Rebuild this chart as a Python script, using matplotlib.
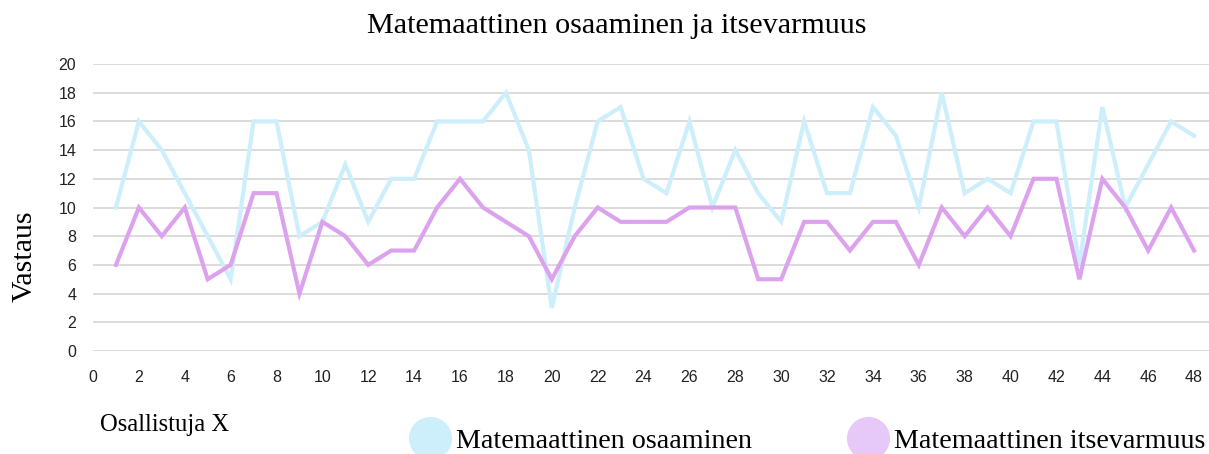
import matplotlib
matplotlib.use("Agg")
import matplotlib.pyplot as plt
from matplotlib.lines import Line2D

# Osallistujat 1..48
osallistuja = list(range(1, 49))
osaaminen = [10, 16, 14, 11, 8, 5, 16, 16, 8, 9, 13, 9, 12, 12, 16, 16,
             16, 18, 14, 3, 10, 16, 17, 12, 11, 16, 10, 14, 11, 9, 16, 11,
             11, 17, 15, 10, 18, 11, 12, 11, 16, 16, 6, 17, 10, 13, 16, 15]
itsevarmuus = [6, 10, 8, 10, 5, 6, 11, 11, 4, 9, 8, 6, 7, 7, 10, 12,
               10, 9, 8, 5, 8, 10, 9, 9, 9, 10, 10, 10, 5, 5, 9, 9,
               7, 9, 9, 6, 10, 8, 10, 8, 12, 12, 5, 12, 10, 7, 10, 7]
sarjat = ["Matemaattinen osaaminen", "Matemaattinen itsevarmuus"]

serif = "Liberation Serif"
sans = "Liberation Sans"
blue = "#cdeefb"
purple = "#dda2ee"

fig = plt.figure(figsize=(12.09, 4.54), dpi=100)
ax = fig.add_axes([93 / 1209, 1 - 351 / 454, 1 - 93 / 1209, (351 - 64) / 454])

ax.plot(osallistuja, osaaminen, color=blue, lw=3, solid_joinstyle="miter", clip_on=False)
ax.plot(osallistuja, itsevarmuus, color=purple, lw=3, solid_joinstyle="miter", clip_on=False)

ax.set_xlim(0, 48.65)
ax.set_ylim(0, 20)
ax.set_xticks(range(0, 49, 2))
ax.set_yticks(range(0, 21, 2))
ax.yaxis.grid(True, color="#d9d9d9", lw=1.3)
ax.set_axisbelow(True)
for s in ax.spines.values():
    s.set_visible(False)
ax.tick_params(length=0, labelsize=11.5, labelcolor="#222222")
ax.tick_params(axis="x", pad=14)
ax.tick_params(axis="y", pad=12)
for lab in ax.get_xticklabels() + ax.get_yticklabels():
    lab.set_fontfamily(sans)

fig.text(616.5 / 1209, 1 - 26 / 454, "Matemaattinen osaaminen ja itsevarmuus",
         ha="center", va="center", fontsize=21.7, family=serif)
fig.text(25 / 1209, 1 - 256 / 454, "Vastaus", rotation=90, ha="center", va="center",
         fontsize=21.5, family=serif)
fig.text(100 / 1209, 1 - 425 / 454, "Osallistuja X", ha="left", va="center",
         fontsize=17.7, family=serif)

handles = [Line2D([], [], ls="none", marker="o", markersize=30, color="#cdeefb"),
           Line2D([], [], ls="none", marker="o", markersize=30, color="#e6c9f8")]
fig.legend(handles, sarjat, loc="center left", bbox_to_anchor=(396 / 1209, 1 - 441 / 454),
           ncol=2, frameon=False, prop={"family": serif, "size": 20.2},
           handlelength=1.45, handletextpad=0.2, columnspacing=3.4, borderpad=0)

fig.savefig("out.png", dpi=100)
